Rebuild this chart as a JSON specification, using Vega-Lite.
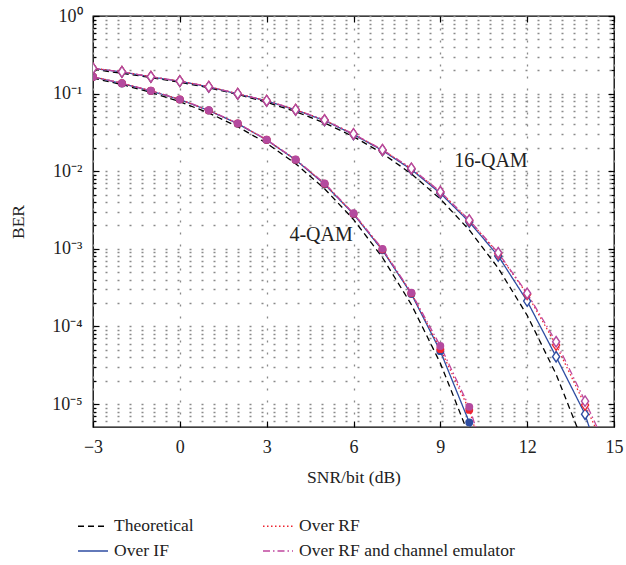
{
  "$schema": "https://vega.github.io/schema/vega-lite/v6.json",
  "width": 521,
  "height": 411,
  "autosize": {"type": "none"},
  "padding": {"left": 93, "top": 16, "right": 12, "bottom": 138},
  "background": "white",
  "config": {
    "view": {"stroke": "#000", "strokeWidth": 1.3},
    "font": "Liberation Serif",
    "axis": {"labelFont": "Liberation Serif", "titleFont": "Liberation Serif", "labelColor": "#222", "titleColor": "#222", "tickColor": "#000", "labelFlush": false, "labelOverlap": false, "titleFontWeight": "normal"},
    "legend": {
      "orient": "none", "legendX": -16, "legendY": 494, "columns": 2,
      "symbolType": "stroke", "symbolSize": 900, "symbolStrokeWidth": 1.3,
      "labelFont": "Liberation Serif", "labelFontSize": 17.5, "labelColor": "#222",
      "columnPadding": 66, "rowPadding": -5, "labelOffset": 5, "title": null, "labelLimit": 400
    }
  },
  "datasets": {
    "curves": [
      {"s": -3, "b": 0.1584, "m": "4-QAM", "k": "Theoretical"},
      {"s": -2, "b": 0.1307, "m": "4-QAM", "k": "Theoretical"},
      {"s": -1, "b": 0.1037, "m": "4-QAM", "k": "Theoretical"},
      {"s": 0, "b": 0.0786, "m": "4-QAM", "k": "Theoretical"},
      {"s": 1, "b": 0.0563, "m": "4-QAM", "k": "Theoretical"},
      {"s": 2, "b": 0.0375, "m": "4-QAM", "k": "Theoretical"},
      {"s": 3, "b": 0.0229, "m": "4-QAM", "k": "Theoretical"},
      {"s": 4, "b": 0.0125, "m": "4-QAM", "k": "Theoretical"},
      {"s": 5, "b": 0.00595, "m": "4-QAM", "k": "Theoretical"},
      {"s": 6, "b": 0.00239, "m": "4-QAM", "k": "Theoretical"},
      {"s": 7, "b": 0.000773, "m": "4-QAM", "k": "Theoretical"},
      {"s": 8, "b": 0.000191, "m": "4-QAM", "k": "Theoretical"},
      {"s": 9, "b": 0.0000336, "m": "4-QAM", "k": "Theoretical"},
      {"s": 10, "b": 0.00000387, "m": "4-QAM", "k": "Theoretical"},
      {"s": -3, "b": 0.205, "m": "16-QAM", "k": "Theoretical"},
      {"s": -2, "b": 0.183, "m": "16-QAM", "k": "Theoretical"},
      {"s": -1, "b": 0.161, "m": "16-QAM", "k": "Theoretical"},
      {"s": 0, "b": 0.140, "m": "16-QAM", "k": "Theoretical"},
      {"s": 1, "b": 0.1188, "m": "16-QAM", "k": "Theoretical"},
      {"s": 2, "b": 0.0977, "m": "16-QAM", "k": "Theoretical"},
      {"s": 3, "b": 0.0774, "m": "16-QAM", "k": "Theoretical"},
      {"s": 4, "b": 0.0586, "m": "16-QAM", "k": "Theoretical"},
      {"s": 5, "b": 0.0419, "m": "16-QAM", "k": "Theoretical"},
      {"s": 6, "b": 0.0279, "m": "16-QAM", "k": "Theoretical"},
      {"s": 7, "b": 0.01697, "m": "16-QAM", "k": "Theoretical"},
      {"s": 8, "b": 0.00925, "m": "16-QAM", "k": "Theoretical"},
      {"s": 9, "b": 0.00439, "m": "16-QAM", "k": "Theoretical"},
      {"s": 10, "b": 0.00175, "m": "16-QAM", "k": "Theoretical"},
      {"s": 11, "b": 0.000565, "m": "16-QAM", "k": "Theoretical"},
      {"s": 12, "b": 0.000139, "m": "16-QAM", "k": "Theoretical"},
      {"s": 13, "b": 0.0000242, "m": "16-QAM", "k": "Theoretical"},
      {"s": 14, "b": 0.00000277, "m": "16-QAM", "k": "Theoretical"},

      {"s": -3, "b": 0.164, "m": "4-QAM", "k": "Over IF"},
      {"s": -2, "b": 0.135, "m": "4-QAM", "k": "Over IF"},
      {"s": -1, "b": 0.108, "m": "4-QAM", "k": "Over IF"},
      {"s": 0, "b": 0.0838, "m": "4-QAM", "k": "Over IF"},
      {"s": 1, "b": 0.0605, "m": "4-QAM", "k": "Over IF"},
      {"s": 2, "b": 0.0410, "m": "4-QAM", "k": "Over IF"},
      {"s": 3, "b": 0.0252, "m": "4-QAM", "k": "Over IF"},
      {"s": 4, "b": 0.0140, "m": "4-QAM", "k": "Over IF"},
      {"s": 5, "b": 0.0068, "m": "4-QAM", "k": "Over IF"},
      {"s": 6, "b": 0.00280, "m": "4-QAM", "k": "Over IF"},
      {"s": 7, "b": 0.00096, "m": "4-QAM", "k": "Over IF"},
      {"s": 8, "b": 0.000262, "m": "4-QAM", "k": "Over IF"},
      {"s": 9, "b": 0.000048, "m": "4-QAM", "k": "Over IF"},
      {"s": 10, "b": 0.0000058, "m": "4-QAM", "k": "Over IF"},
      {"s": 11, "b": 0.0000001, "m": "4-QAM", "k": "Over IF"},
      {"s": -3, "b": 0.211, "m": "16-QAM", "k": "Over IF"},
      {"s": -2, "b": 0.190, "m": "16-QAM", "k": "Over IF"},
      {"s": -1, "b": 0.164, "m": "16-QAM", "k": "Over IF"},
      {"s": 0, "b": 0.144, "m": "16-QAM", "k": "Over IF"},
      {"s": 1, "b": 0.122, "m": "16-QAM", "k": "Over IF"},
      {"s": 2, "b": 0.099, "m": "16-QAM", "k": "Over IF"},
      {"s": 3, "b": 0.0805, "m": "16-QAM", "k": "Over IF"},
      {"s": 4, "b": 0.0615, "m": "16-QAM", "k": "Over IF"},
      {"s": 5, "b": 0.045, "m": "16-QAM", "k": "Over IF"},
      {"s": 6, "b": 0.0297, "m": "16-QAM", "k": "Over IF"},
      {"s": 7, "b": 0.0185, "m": "16-QAM", "k": "Over IF"},
      {"s": 8, "b": 0.0105, "m": "16-QAM", "k": "Over IF"},
      {"s": 9, "b": 0.0052, "m": "16-QAM", "k": "Over IF"},
      {"s": 10, "b": 0.00222, "m": "16-QAM", "k": "Over IF"},
      {"s": 11, "b": 0.00081, "m": "16-QAM", "k": "Over IF"},
      {"s": 12, "b": 0.000212, "m": "16-QAM", "k": "Over IF"},
      {"s": 13, "b": 0.0000407, "m": "16-QAM", "k": "Over IF"},
      {"s": 14, "b": 0.0000074, "m": "16-QAM", "k": "Over IF"},
      {"s": 15, "b": 0.0000005, "m": "16-QAM", "k": "Over IF"},

      {"s": -3, "b": 0.165, "m": "4-QAM", "k": "Over RF"},
      {"s": -2, "b": 0.136, "m": "4-QAM", "k": "Over RF"},
      {"s": -1, "b": 0.109, "m": "4-QAM", "k": "Over RF"},
      {"s": 0, "b": 0.0842, "m": "4-QAM", "k": "Over RF"},
      {"s": 1, "b": 0.0608, "m": "4-QAM", "k": "Over RF"},
      {"s": 2, "b": 0.0412, "m": "4-QAM", "k": "Over RF"},
      {"s": 3, "b": 0.0254, "m": "4-QAM", "k": "Over RF"},
      {"s": 4, "b": 0.0141, "m": "4-QAM", "k": "Over RF"},
      {"s": 5, "b": 0.0069, "m": "4-QAM", "k": "Over RF"},
      {"s": 6, "b": 0.00284, "m": "4-QAM", "k": "Over RF"},
      {"s": 7, "b": 0.00098, "m": "4-QAM", "k": "Over RF"},
      {"s": 8, "b": 0.000268, "m": "4-QAM", "k": "Over RF"},
      {"s": 9, "b": 0.000051, "m": "4-QAM", "k": "Over RF"},
      {"s": 10, "b": 0.0000084, "m": "4-QAM", "k": "Over RF"},
      {"s": 11, "b": 0.0000005, "m": "4-QAM", "k": "Over RF"},
      {"s": -3, "b": 0.212, "m": "16-QAM", "k": "Over RF"},
      {"s": -2, "b": 0.191, "m": "16-QAM", "k": "Over RF"},
      {"s": -1, "b": 0.165, "m": "16-QAM", "k": "Over RF"},
      {"s": 0, "b": 0.145, "m": "16-QAM", "k": "Over RF"},
      {"s": 1, "b": 0.123, "m": "16-QAM", "k": "Over RF"},
      {"s": 2, "b": 0.0995, "m": "16-QAM", "k": "Over RF"},
      {"s": 3, "b": 0.081, "m": "16-QAM", "k": "Over RF"},
      {"s": 4, "b": 0.062, "m": "16-QAM", "k": "Over RF"},
      {"s": 5, "b": 0.0456, "m": "16-QAM", "k": "Over RF"},
      {"s": 6, "b": 0.0301, "m": "16-QAM", "k": "Over RF"},
      {"s": 7, "b": 0.0188, "m": "16-QAM", "k": "Over RF"},
      {"s": 8, "b": 0.0108, "m": "16-QAM", "k": "Over RF"},
      {"s": 9, "b": 0.0054, "m": "16-QAM", "k": "Over RF"},
      {"s": 10, "b": 0.00232, "m": "16-QAM", "k": "Over RF"},
      {"s": 11, "b": 0.00087, "m": "16-QAM", "k": "Over RF"},
      {"s": 12, "b": 0.00026, "m": "16-QAM", "k": "Over RF"},
      {"s": 13, "b": 0.0000576, "m": "16-QAM", "k": "Over RF"},
      {"s": 14, "b": 0.0000097, "m": "16-QAM", "k": "Over RF"},
      {"s": 15, "b": 0.0000015, "m": "16-QAM", "k": "Over RF"},

      {"s": -3, "b": 0.165, "m": "4-QAM", "k": "Over RF and channel emulator"},
      {"s": -2, "b": 0.136, "m": "4-QAM", "k": "Over RF and channel emulator"},
      {"s": -1, "b": 0.109, "m": "4-QAM", "k": "Over RF and channel emulator"},
      {"s": 0, "b": 0.0844, "m": "4-QAM", "k": "Over RF and channel emulator"},
      {"s": 1, "b": 0.0610, "m": "4-QAM", "k": "Over RF and channel emulator"},
      {"s": 2, "b": 0.0414, "m": "4-QAM", "k": "Over RF and channel emulator"},
      {"s": 3, "b": 0.0255, "m": "4-QAM", "k": "Over RF and channel emulator"},
      {"s": 4, "b": 0.0142, "m": "4-QAM", "k": "Over RF and channel emulator"},
      {"s": 5, "b": 0.00698, "m": "4-QAM", "k": "Over RF and channel emulator"},
      {"s": 6, "b": 0.00287, "m": "4-QAM", "k": "Over RF and channel emulator"},
      {"s": 7, "b": 0.00100, "m": "4-QAM", "k": "Over RF and channel emulator"},
      {"s": 8, "b": 0.000272, "m": "4-QAM", "k": "Over RF and channel emulator"},
      {"s": 9, "b": 0.000056, "m": "4-QAM", "k": "Over RF and channel emulator"},
      {"s": 10, "b": 0.0000092, "m": "4-QAM", "k": "Over RF and channel emulator"},
      {"s": 11, "b": 0.0000006, "m": "4-QAM", "k": "Over RF and channel emulator"},
      {"s": -3, "b": 0.212, "m": "16-QAM", "k": "Over RF and channel emulator"},
      {"s": -2, "b": 0.191, "m": "16-QAM", "k": "Over RF and channel emulator"},
      {"s": -1, "b": 0.165, "m": "16-QAM", "k": "Over RF and channel emulator"},
      {"s": 0, "b": 0.145, "m": "16-QAM", "k": "Over RF and channel emulator"},
      {"s": 1, "b": 0.123, "m": "16-QAM", "k": "Over RF and channel emulator"},
      {"s": 2, "b": 0.0997, "m": "16-QAM", "k": "Over RF and channel emulator"},
      {"s": 3, "b": 0.0811, "m": "16-QAM", "k": "Over RF and channel emulator"},
      {"s": 4, "b": 0.0621, "m": "16-QAM", "k": "Over RF and channel emulator"},
      {"s": 5, "b": 0.0457, "m": "16-QAM", "k": "Over RF and channel emulator"},
      {"s": 6, "b": 0.0302, "m": "16-QAM", "k": "Over RF and channel emulator"},
      {"s": 7, "b": 0.0189, "m": "16-QAM", "k": "Over RF and channel emulator"},
      {"s": 8, "b": 0.0109, "m": "16-QAM", "k": "Over RF and channel emulator"},
      {"s": 9, "b": 0.00544, "m": "16-QAM", "k": "Over RF and channel emulator"},
      {"s": 10, "b": 0.00235, "m": "16-QAM", "k": "Over RF and channel emulator"},
      {"s": 11, "b": 0.00089, "m": "16-QAM", "k": "Over RF and channel emulator"},
      {"s": 12, "b": 0.000267, "m": "16-QAM", "k": "Over RF and channel emulator"},
      {"s": 13, "b": 0.0000635, "m": "16-QAM", "k": "Over RF and channel emulator"},
      {"s": 14, "b": 0.0000109, "m": "16-QAM", "k": "Over RF and channel emulator"},
      {"s": 15, "b": 0.0000017, "m": "16-QAM", "k": "Over RF and channel emulator"}
    ],
    "notes": [
      {"s": 10.75, "b": 0.0135, "t": "16-QAM"},
      {"s": 4.88, "b": 0.00151, "t": "4-QAM"}
    ]
  },
  "data": {"name": "curves"},
  "resolve": {"axis": {"x": "independent", "y": "independent"}},
  "layer": [
    {
      "mark": {"type": "line", "clip": true, "strokeWidth": 1.3},
      "encoding": {
        "x": {"field": "s", "type": "quantitative",
          "scale": {"domain": [-3, 15], "nice": false, "zero": false},
          "axis": {"orient": "bottom", "values": [-3, 0, 3, 6, 9, 12, 15], "title": "SNR/bit (dB)",
            "grid": true, "gridDash": [2, 10], "gridColor": "#8a8a8a", "gridWidth": 1.3,
            "domain": false, "tickSize": -6, "tickWidth": 1.2, "labelFontSize": 18, "labelPadding": 17,
            "titleFontSize": 17.5, "titlePadding": 12}},
        "y": {"field": "b", "type": "quantitative",
          "scale": {"type": "log", "domain": [0.00000506, 1], "nice": false},
          "axis": {"orient": "left", "title": "BER",
            "values": [1, 0.9, 0.8, 0.7, 0.6, 0.5, 0.4, 0.3, 0.2, 0.1, 0.09, 0.08, 0.07, 0.06, 0.05, 0.04, 0.03, 0.02, 0.01, 0.009, 0.008, 0.007, 0.006, 0.005, 0.004, 0.003, 0.002, 0.001, 0.0009, 0.0008, 0.0007, 0.0006, 0.0005, 0.0004, 0.0003, 0.0002, 0.0001, 0.00009, 0.00008, 0.00007, 0.00006, 0.00005, 0.00004, 0.00003, 0.00002, 0.00001, 0.000009, 0.000008, 0.000007, 0.000006],
            "labelExpr": "datum.value == 1 ? '10⁰' : datum.value == 0.1 ? '10⁻¹' : datum.value == 0.01 ? '10⁻²' : datum.value == 0.001 ? '10⁻³' : datum.value == 0.0001 ? '10⁻⁴' : datum.value == 0.00001 ? '10⁻⁵' : ''",
            "grid": true, "gridDash": [2, 10], "gridColor": "#8a8a8a", "gridWidth": 1.3,
            "domain": false, "tickWidth": 1.2,
            "tickSize": {"condition": {"test": "datum.value == 1 || datum.value == 0.1 || datum.value == 0.01 || datum.value == 0.001 || datum.value == 0.0001 || datum.value == 0.00001", "value": -6}, "value": -3},
            "labelFontSize": 18, "labelPadding": 17, "titleFontSize": 17.5, "titlePadding": 24}},
        "color": {"field": "k", "type": "nominal",
          "scale": {"domain": ["Theoretical", "Over IF", "Over RF", "Over RF and channel emulator"], "range": ["#000000", "#2F4DA2", "#EE2530", "#C0479F"]}},
        "strokeDash": {"field": "k", "type": "nominal",
          "scale": {"domain": ["Theoretical", "Over IF", "Over RF", "Over RF and channel emulator"], "range": [[6, 4], [1, 0], [1.5, 2.5], [7, 3, 1.5, 3]]}},
        "detail": {"field": "m"}
      }
    },
    {
      "transform": [{"filter": "datum.m == '4-QAM' && datum.k != 'Theoretical'"}],
      "mark": {"type": "point", "shape": "circle", "filled": true, "clip": true, "size": 62, "opacity": 1},
      "encoding": {
        "x": {"field": "s", "type": "quantitative",
          "axis": {"orient": "top", "values": [-3, 0, 3, 6, 9, 12, 15], "labels": false, "grid": false, "domain": false, "tickSize": -6, "tickWidth": 1.2, "title": null}},
        "y": {"field": "b", "type": "quantitative",
          "axis": {"orient": "right", "labels": false, "grid": false, "domain": false, "title": null, "tickWidth": 1.2,
            "values": [1, 0.9, 0.8, 0.7, 0.6, 0.5, 0.4, 0.3, 0.2, 0.1, 0.09, 0.08, 0.07, 0.06, 0.05, 0.04, 0.03, 0.02, 0.01, 0.009, 0.008, 0.007, 0.006, 0.005, 0.004, 0.003, 0.002, 0.001, 0.0009, 0.0008, 0.0007, 0.0006, 0.0005, 0.0004, 0.0003, 0.0002, 0.0001, 0.00009, 0.00008, 0.00007, 0.00006, 0.00005, 0.00004, 0.00003, 0.00002, 0.00001, 0.000009, 0.000008, 0.000007, 0.000006],
            "tickSize": {"condition": {"test": "datum.value == 1 || datum.value == 0.1 || datum.value == 0.01 || datum.value == 0.001 || datum.value == 0.0001 || datum.value == 0.00001", "value": -6}, "value": -3}}},
        "fill": {"field": "k", "type": "nominal", "legend": null,
          "scale": {"domain": ["Over IF", "Over RF", "Over RF and channel emulator"], "range": ["#2F4DA2", "#EE2530", "#B44A9F"]}}
      }
    },
    {
      "transform": [{"filter": "datum.m == '16-QAM' && datum.k != 'Theoretical'"}],
      "mark": {"type": "point", "shape": "M0,-1L0.68,0L0,1L-0.68,0Z", "filled": true, "fill": "white", "clip": true, "size": 110, "strokeWidth": 1.4, "opacity": 1},
      "encoding": {
        "x": {"field": "s", "type": "quantitative", "axis": null},
        "y": {"field": "b", "type": "quantitative", "axis": null},
        "stroke": {"field": "k", "type": "nominal", "legend": null,
          "scale": {"domain": ["Over IF", "Over RF", "Over RF and channel emulator"], "range": ["#2F4DA2", "#EE2530", "#B44A9F"]}}
      }
    },
    {
      "data": {"name": "notes"},
      "mark": {"type": "text", "font": "Liberation Serif", "fontSize": 20, "color": "#222"},
      "encoding": {
        "x": {"field": "s", "type": "quantitative", "axis": null},
        "y": {"field": "b", "type": "quantitative", "axis": null},
        "text": {"field": "t"}
      }
    }
  ]
}
